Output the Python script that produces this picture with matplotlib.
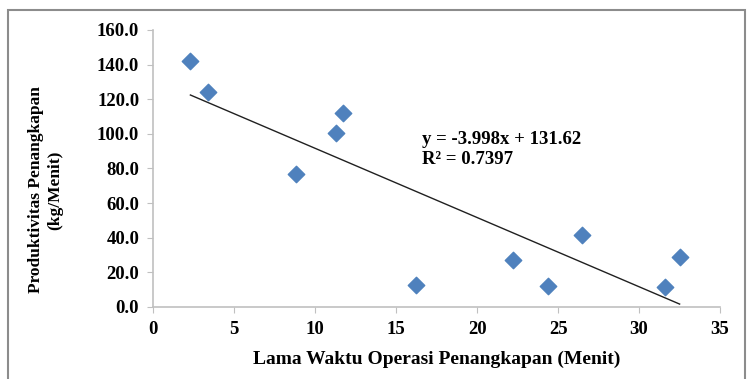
import matplotlib.pyplot as plt
import numpy as np
from matplotlib.patches import Rectangle

# lama waktu operasi (menit) vs produktivitas (kg/menit)
waktu = [2.3, 3.4, 8.8, 11.3, 11.7, 16.2, 22.2, 24.4, 26.5, 31.6, 32.5]
produktivitas = [142.2, 124.3, 76.9, 100.6, 112.1, 12.7, 27.2, 12.1, 41.6, 11.6, 28.9]

slope = -3.998
intercept = 131.62
r2 = 0.7397

xticks = [0, 5, 10, 15, 20, 25, 30, 35]
yticks = [0, 20, 40, 60, 80, 100, 120, 140, 160]

plt.rcParams['font.family'] = ['Liberation Serif', 'DejaVu Serif']
plt.rcParams['font.weight'] = 'bold'

fig = plt.figure(figsize=(7.47, 3.79), dpi=100)
ax = fig.add_axes([0.205, 0.19, 0.759, 0.731])

# frame around the chart
fig.patches.append(Rectangle((8 / 747, -0.05), 737 / 747, 1.05 - 10 / 379,
                             transform=fig.transFigure, fill=False,
                             edgecolor='#8c8c8c', linewidth=1.5))

ax.scatter(waktu, produktivitas, marker='D', s=70, color='#4f81bd', zorder=3)

xs = np.array([min(waktu), max(waktu)])
ax.plot(xs, slope * xs + intercept, color='#202020', linewidth=1)

ax.text(16.6, 91, f"y = {slope}x + {intercept}\nR² = {r2}",
        fontsize=13.5, fontweight='bold', linespacing=1.2, va='center')

ax.set_xlim(0, 35)
ax.set_ylim(0, 160)
ax.set_xticks(xticks)
ax.set_yticks(yticks)
ax.set_yticklabels([f"{v:.1f}" for v in yticks])

for s in ['top', 'right']:
    ax.spines[s].set_visible(False)
for s in ['left', 'bottom']:
    ax.spines[s].set_color('#c0c0c0')
    ax.spines[s].set_linewidth(1.2)
ax.tick_params(axis='both', direction='out', length=4, color='#c0c0c0',
               labelsize=13.5, pad=6)

ax.set_xlabel("Lama Waktu Operasi Penangkapan (Menit)", fontsize=14,
              fontweight='bold', labelpad=9)
fig.text(46 / 747, 1 - 190 / 379, "Produktivitas Penangkapan\n(kg/Menit)",
         rotation=90, ha='center', va='center', fontsize=12.5,
         fontweight='bold', linespacing=1.25)

fig.savefig('out.png', dpi=100)
